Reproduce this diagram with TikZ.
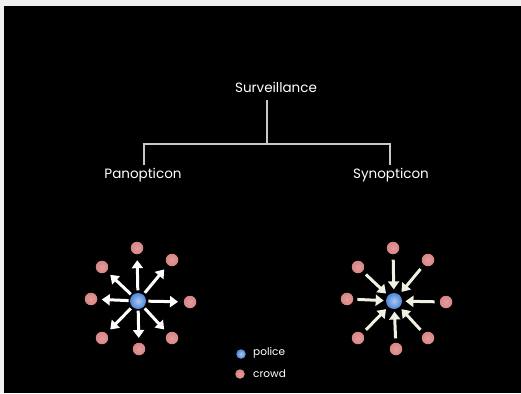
\documentclass[tikz,border=0pt]{standalone}
\usepackage{fontspec}
\setmainfont{Poppins}
\usetikzlibrary{arrows.meta,calc}
\definecolor{bgray}{HTML}{F0F0F0}
\definecolor{police}{HTML}{4F86D6}
\definecolor{policel}{HTML}{A9C8F2}
\definecolor{crowdc}{HTML}{D98484}
\definecolor{cream}{HTML}{EEF2E2}
\definecolor{linec}{HTML}{C8C8C8}
\tikzset{
  lbl/.style={text=white, font=\fontsize{13.5}{15}\selectfont, inner sep=0pt},
  conn/.style={draw=linec, line width=1.3pt},
  policedot/.style={circle, inner sep=0pt, minimum size=16pt, inner color=policel, outer color=police},
  crowddot/.style={circle, inner sep=0pt, minimum size=12.5pt, inner color=crowdc!80!white, outer color=crowdc},
  outarrow/.style={draw=white, line width=3pt, -{Triangle[width=11pt,length=8pt]}},
  inarrow/.style={draw=cream, line width=3pt, -{Triangle[width=11pt,length=8pt]}},
  legdot/.style={circle, inner sep=0pt, minimum size=9.5pt},
  leglbl/.style={text=white, font=\fontsize{10.5}{12}\selectfont, inner sep=0pt, anchor=west}
}
\begin{document}
\begin{tikzpicture}[x=1pt,y=-1pt]
\fill[bgray] (0,0) rectangle (521,393);
\useasboundingbox (0,0) rectangle (521,393);
\fill[black] (4,6) rectangle (521,393);
% tree
\node[lbl] (surv) at (276,87) {Surveillance};
\node[lbl] (pan) at (143,175) {Panopticon};
\node[lbl] (syn) at (391,175) {Synopticon};
\coordinate (sv) at (267,100);
\coordinate (j) at (267,144);
\coordinate (jl) at (144,144);
\coordinate (jr) at (390,144);
\coordinate (pl) at (144,165);
\coordinate (sr) at (390,165);
\draw[conn] (sv) -- (j);
\draw[conn] (pl) -- (jl) -- (jr) -- (sr);
% panopticon cluster
\node[policedot] (pc) at (138,301) {};
\foreach \n/\x/\y in {t/137/248, tr/172/260, r/190/302, br/172/338, b/139/349, bl/102/338, l/91/299, tl/102/267}{
  \node[crowddot] (p\n) at (\x,\y) {};
}
\foreach \n in {t, tr, r, br, b, bl, l, tl}{
  \draw[outarrow] ($(pc)!0.2!(p\n)$) -- ($(pc)!0.77!(p\n)$);
}
% synopticon cluster
\node[policedot] (sc) at (394,301) {};
\foreach \n/\x/\y in {t/393/248, tr/428/260, r/446/302, br/428/338, b/396/349, bl/358/338, l/347/299, tl/358/267}{
  \node[crowddot] (s\n) at (\x,\y) {};
}
\foreach \n in {t, tr, r, br, b, bl, l, tl}{
  \draw[inarrow] ($(s\n)!0.22!(sc)$) -- ($(s\n)!0.78!(sc)$);
}
% legend
\node[legdot, inner color=policel, outer color=police] (lp) at (241,354) {};
\node[legdot, inner color=crowdc!80!white, outer color=crowdc] (lc) at (240,374) {};
\node[leglbl] (lpt) at (253,353) {police};
\node[leglbl] (lct) at (253,374) {crowd};
\end{tikzpicture}
\end{document}
